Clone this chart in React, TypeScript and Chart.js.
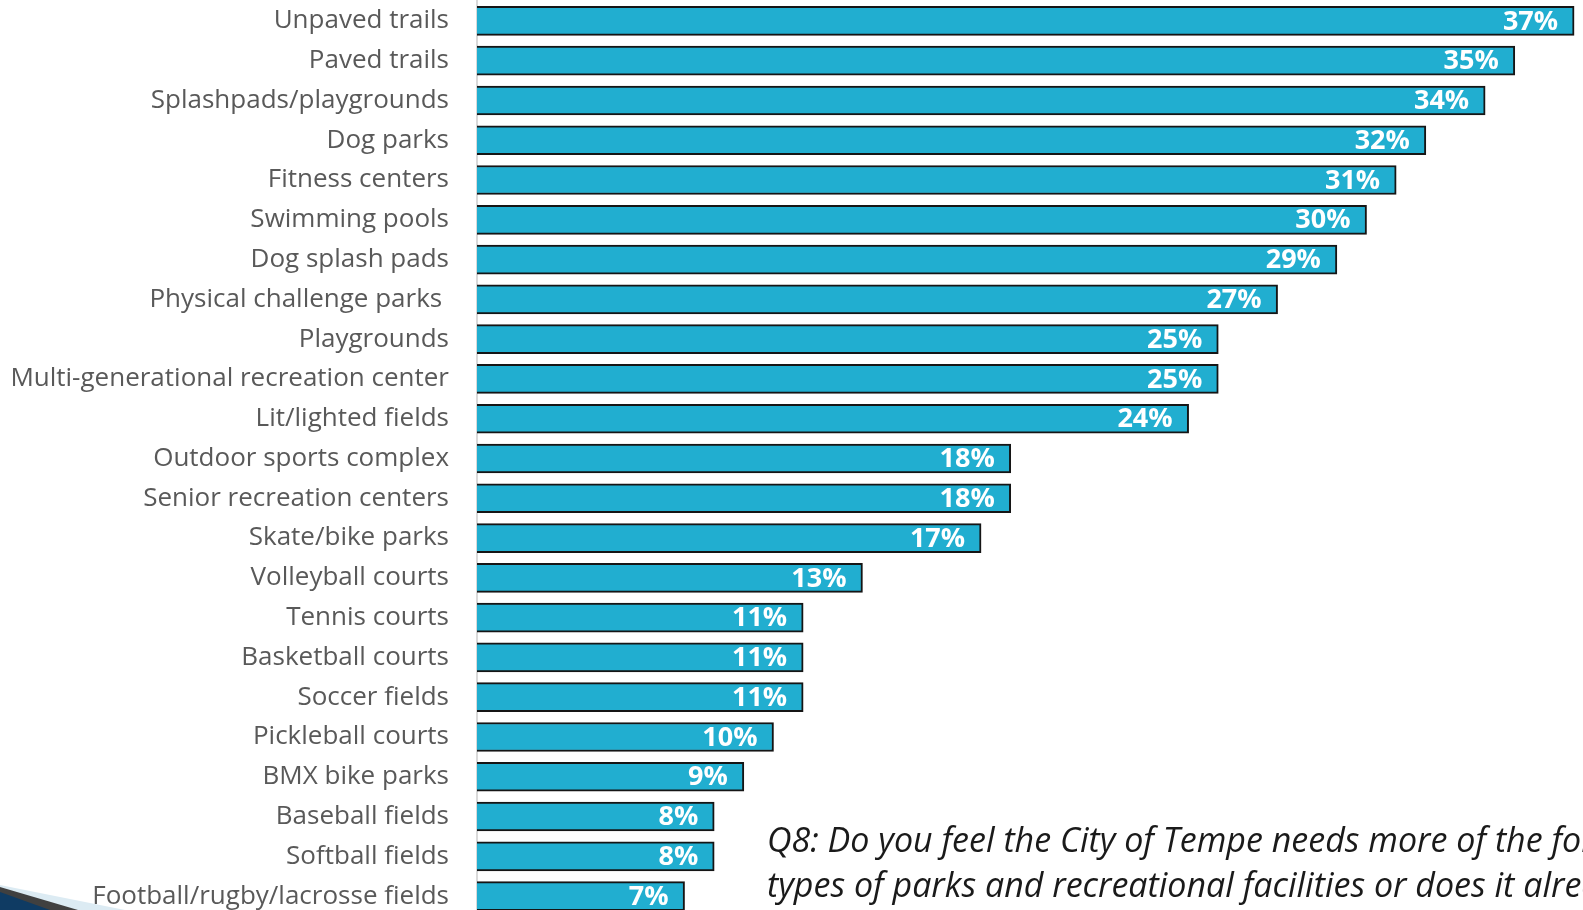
import React, { useEffect, useRef } from "react";
import { Chart, registerables } from "chart.js";

Chart.register(...registerables);

const categories: string[] = [
  "Unpaved trails",
  "Paved trails",
  "Splashpads/playgrounds",
  "Dog parks",
  "Fitness centers",
  "Swimming pools",
  "Dog splash pads",
  "Physical challenge parks ",
  "Playgrounds",
  "Multi-generational recreation center",
  "Lit/lighted fields",
  "Outdoor sports complex",
  "Senior recreation centers",
  "Skate/bike parks",
  "Volleyball courts",
  "Tennis courts",
  "Basketball courts",
  "Soccer fields",
  "Pickleball courts",
  "BMX bike parks",
  "Baseball fields",
  "Softball fields",
  "Football/rugby/lacrosse fields",
];

const percentages: number[] = [
  37, 35, 34, 32, 31, 30, 29, 27, 25, 25, 24, 18, 18, 17, 13, 11, 11, 11, 10, 9, 8, 8, 7,
];

const noteLines: string[] = [
  "Q8: Do you feel the City of Tempe needs more of the following",
  "types of parks and recreational facilities or does it already have enough?",
];

const valueLabelPlugin = {
  id: "valueLabels",
  afterDatasetsDraw(chart: any) {
    const ctx = chart.ctx;
    const meta = chart.getDatasetMeta(0);
    ctx.save();
    ctx.font = "bold 27px 'Open Sans'";
    ctx.fillStyle = "#ffffff";
    ctx.textAlign = "right";
    ctx.textBaseline = "middle";
    meta.data.forEach((bar: any, i: number) => {
      const v = chart.data.datasets[0].data[i];
      ctx.fillText(v + "%", bar.x - 16, bar.y + 1);
    });
    ctx.restore();
  },
};

export default function App() {
  const canvasRef = useRef<HTMLCanvasElement | null>(null);

  useEffect(() => {
    if (!canvasRef.current) return;
    const chart = new Chart(canvasRef.current, {
      type: "bar",
      data: {
        labels: categories,
        datasets: [
          {
            data: percentages,
            backgroundColor: "#21AED0",
            borderColor: "#151515",
            borderWidth: 2,
            borderSkipped: "start",
            barThickness: 29,
          },
        ],
      },
      options: {
        indexAxis: "y",
        responsive: false,
        animation: false,
        layout: { padding: { top: 1, right: 0, bottom: 0, left: 0 } },
        plugins: {
          legend: { display: false },
          tooltip: { enabled: false },
          title: { display: false },
        },
        scales: {
          x: {
            display: false,
            min: 0,
            max: 37.3,
          },
          y: {
            grid: { display: false },
            border: { display: true, color: "#d9d9d9", width: 2 },
            ticks: {
              color: "#595959",
              font: { family: "'Open Sans'", size: 26 },
              padding: 20,
              autoSkip: false,
            },
            afterFit(scale: any) {
              scale.width = 477;
              scale.paddingTop = 0;
              scale.paddingBottom = 0;
            },
          },
        },
      },
      plugins: [valueLabelPlugin],
    });
    return () => chart.destroy();
  }, []);

  return (
    <div
      style={{
        position: "absolute",
        left: 0,
        top: 0,
        width: 1583,
        height: 910,
        overflow: "hidden",
        background: "#ffffff",
      }}
    >
      <canvas ref={canvasRef} width={1583} height={916} style={{ display: "block" }} />
      <svg
        width={140}
        height={30}
        style={{ position: "absolute", left: 0, top: 880 }}
      >
        <polygon points="0,5 125,30 0,30" fill="#dcebf3" />
        <polygon points="0,7 78,30 0,30" fill="#404040" />
        <polygon points="0,12 50,30 0,30" fill="#0f3b63" />
      </svg>
      <div
        style={{
          position: "absolute",
          left: 767,
          top: 817,
          fontFamily: "'Open Sans'",
          fontStyle: "italic",
          fontSize: 34,
          lineHeight: "45px",
          color: "#1a1a1a",
          whiteSpace: "nowrap",
        }}
      >
        {noteLines.map((l, i) => (
          <div key={i}>{l}</div>
        ))}
      </div>
    </div>
  );
}
